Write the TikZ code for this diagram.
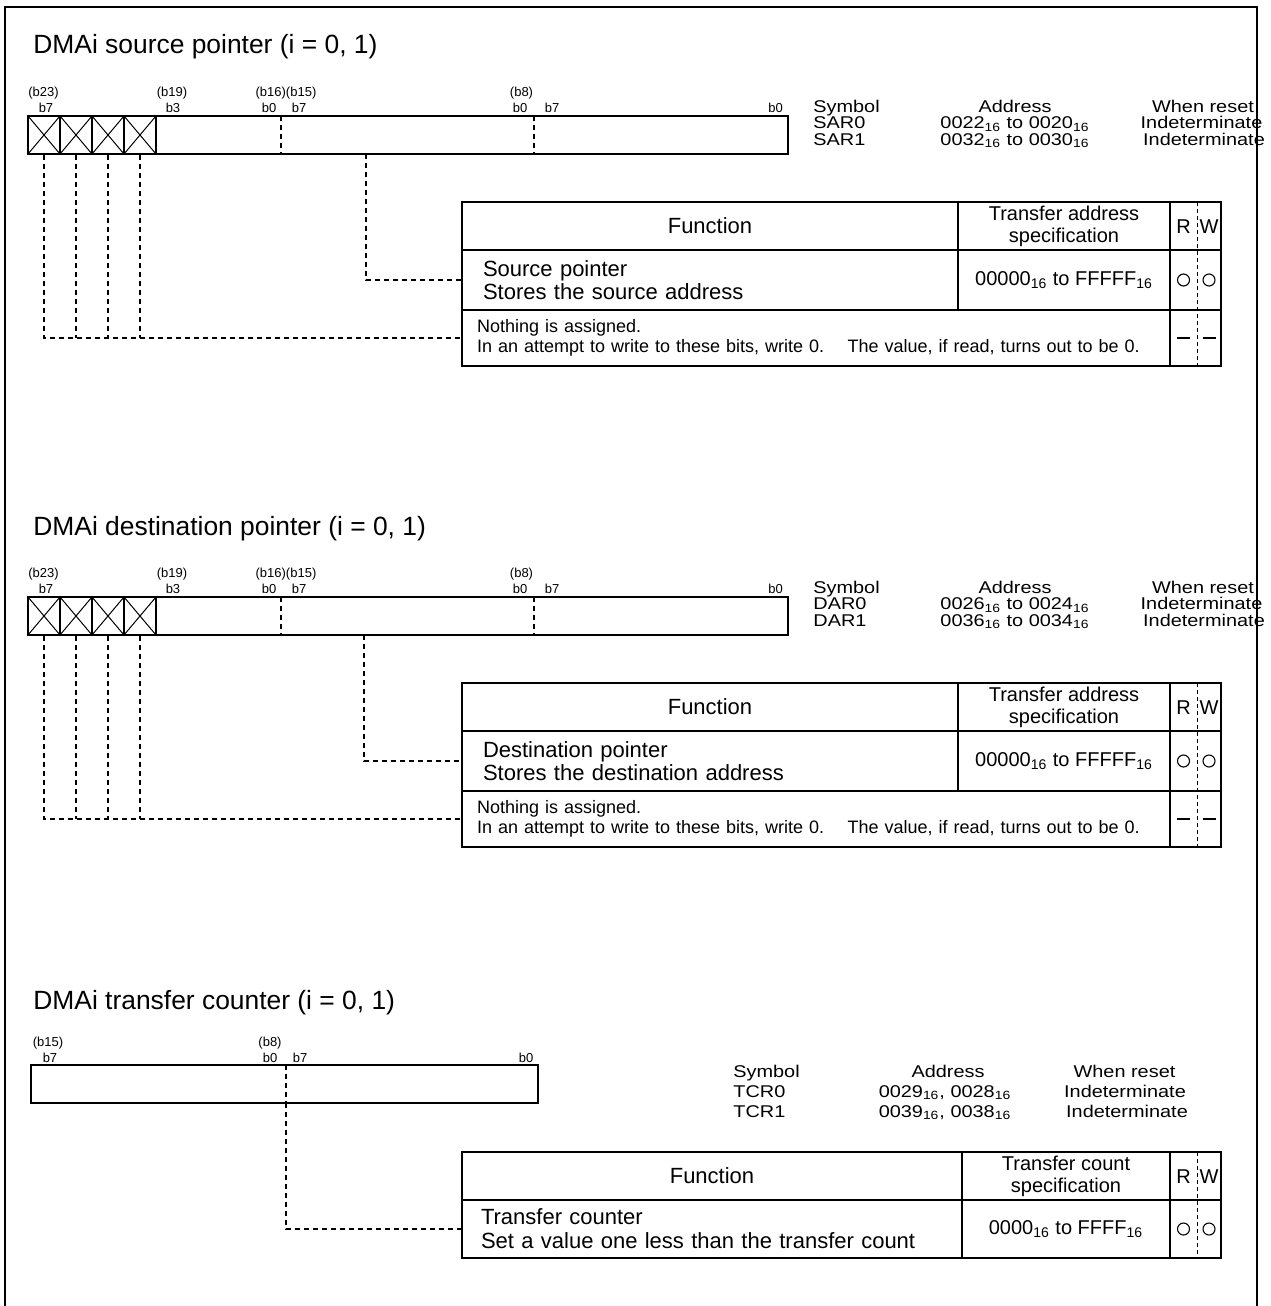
\documentclass[tikz,border=0pt]{standalone}
\usepackage{fontspec}
\setmainfont{Liberation Sans}
\newfontfamily\symfont[FakeStretch=1.17]{Liberation Sans}
\newcommand{\hexsub}{\textsubscript{16}}

\begin{document}
\begin{tikzpicture}[x=0.5pt,y=-0.5pt,
  regtitle/.style={anchor=base west,inner sep=0pt,font=\fontsize{13.2}{15}\selectfont},
  bitlbl/.style={anchor=base,inner sep=0pt,font=\fontsize{6.5}{7}\selectfont},
  symtxt/.style={anchor=base,inner sep=0pt,font=\symfont\fontsize{8.5}{10}\selectfont},
  regbox/.style={draw,line width=0.9pt,minimum height=19pt,inner sep=0pt},
  xcell/.style={regbox,minimum width=16pt,path picture={
    \draw[line width=0.5pt] (path picture bounding box.south west) -- (path picture bounding box.north east)
      (path picture bounding box.north west) -- (path picture bounding box.south east);}},
  bitdiv/.style={line width=0.6pt,dash pattern=on 2.5pt off 2pt},
  fieldconn/.style={line width=0.6pt,dash pattern=on 2.5pt off 2pt},
  tcell/.style={draw,line width=0.7pt,inner sep=0pt,align=center,font=\fontsize{11}{11.5}\selectfont},
  fcell/.style={tcell,align=left,inner xsep=10.5pt},
  spectxt/.style={font=\fontsize{10}{11}\selectfont},
  rwdiv/.style={line width=0.35pt,dash pattern=on 2pt off 1.5pt},
  rwmark/.style={circle,draw,line width=0.55pt,minimum size=6pt,inner sep=0pt},
  nomark/.style={inner sep=0pt,font=\fontsize{10}{12}\selectfont}
]
  \useasboundingbox (0,0) rectangle (1270,1306);
  % Page frame
  \draw[line width=1pt] (5,1306) |- (1257,7) -- (1257,1306);

  % ---- DMAi source pointer ----
  \node[regtitle] (stitle) at (33,54) {DMAi source pointer (i = 0, 1)};
  \node[bitlbl] (sb23) at (43.5,96) {(b23)};
  \node[bitlbl] (sb7a) at (46,112) {b7};
  \node[bitlbl] (sb19) at (172,96) {(b19)};
  \node[bitlbl] (sb3) at (173,112) {b3};
  \node[bitlbl] (sb16) at (286,96) {(b16)(b15)};
  \node[bitlbl] (sb0a) at (269,112) {b0};
  \node[bitlbl] (sb7b) at (299,112) {b7};
  \node[bitlbl] (sb8) at (521.5,96) {(b8)};
  \node[bitlbl] (sb0b) at (520,112) {b0};
  \node[bitlbl] (sb7c) at (552,112) {b7};
  \node[bitlbl] (sb0c) at (775.5,112) {b0};

  \node[regbox,minimum width=380pt] (sreg) at (408,135) {};
  \node[xcell] (sx1) at (44,135) {};
  \node[xcell] (sx2) at (76,135) {};
  \node[xcell] (sx3) at (108,135) {};
  \node[xcell] (sx4) at (140,135) {};
  \draw[bitdiv] (281,116) -- (281,154);
  \draw[bitdiv] (534,116) -- (534,154);

  \node[symtxt,anchor=base west] (ssym) at (813,112) {Symbol};
  \node[symtxt,anchor=base west] (ssym0) at (813,128.5) {SAR0};
  \node[symtxt,anchor=base west] (ssym1) at (813,145) {SAR1};
  \node[symtxt] (sadr) at (1015,112) {Address};
  \node[symtxt] (sadr0) at (1015,128.5) {0022\hexsub{} to 0020\hexsub};
  \node[symtxt] (sadr1) at (1015,145) {0032\hexsub{} to 0030\hexsub};
  \node[symtxt] (srst) at (1203,112) {When reset};
  \node[symtxt] (srst0) at (1201.5,128.5) {Indeterminate};
  \node[symtxt] (srst1) at (1204,145) {Indeterminate};

  \node[tcell,minimum width=248pt,minimum height=24pt] (sfun) at (710,226) {Function};
  \node[tcell,spectxt,minimum width=106pt,minimum height=24pt] (sspec) at (1064,226) {Transfer address\\specification};
  \node[tcell,minimum width=25.5pt,minimum height=24pt] (srw) at (1195.5,226) {};
  \node[nomark] (sr) at (1183.5,227) {R};
  \node[nomark] (sw) at (1209,227) {W};
  \node[fcell,minimum width=248pt,minimum height=30pt,text width=227pt] (sptr) at (710,280)
    {Source pointer\\Stores the source address};
  \node[tcell,minimum width=106pt,minimum height=30pt,font=\fontsize{10}{12}\selectfont] (srng) at (1064,280)
    {00000\hexsub{} to FFFFF\hexsub};
  \node[tcell,minimum width=25.5pt,minimum height=30pt] (srw2) at (1195.5,280) {};
  \node[rwmark] (sro) at (1183.5,280) {};
  \node[rwmark] (swo) at (1209,280) {};
  \node[fcell,inner xsep=7.5pt,minimum width=354pt,minimum height=28pt,text width=339pt,
    font=\fontsize{9}{10}\selectfont] (snone) at (816,338)
    {Nothing is assigned.\\In an attempt to write to these bits, write 0.\hspace{0.8em} The value, if read, turns out to be 0.};
  \node[tcell,minimum width=25.5pt,minimum height=28pt] (srw3) at (1195.5,338) {};
  \node[nomark] (srn) at (1183.5,338) {\rule{6.5pt}{1.2pt}};
  \node[nomark] (swn) at (1209,338) {\rule{6.5pt}{1.2pt}};
  \draw[rwdiv] (1197,202) -- (1197,366);

  \coordinate (sfld) at (366,154);
  \draw[fieldconn] (sfld) |- (sptr.west);
  \draw[fieldconn] (sx1.south) |- (snone.west);
  \foreach \c in {sx2,sx3,sx4}
    \draw[fieldconn] (\c.south) -- (\c.south |- snone.west);

  % ---- DMAi destination pointer ----
  \begin{scope}[shift={(0,481)}]
  \node[regtitle] (dtitle) at (33,54) {DMAi destination pointer (i = 0, 1)};
  \node[bitlbl] (db23) at (43.5,96) {(b23)};
  \node[bitlbl] (db7a) at (46,112) {b7};
  \node[bitlbl] (db19) at (172,96) {(b19)};
  \node[bitlbl] (db3) at (173,112) {b3};
  \node[bitlbl] (db16) at (286,96) {(b16)(b15)};
  \node[bitlbl] (db0a) at (269,112) {b0};
  \node[bitlbl] (db7b) at (299,112) {b7};
  \node[bitlbl] (db8) at (521.5,96) {(b8)};
  \node[bitlbl] (db0b) at (520,112) {b0};
  \node[bitlbl] (db7c) at (552,112) {b7};
  \node[bitlbl] (db0c) at (775.5,112) {b0};

  \node[regbox,minimum width=380pt] (dreg) at (408,135) {};
  \node[xcell] (dx1) at (44,135) {};
  \node[xcell] (dx2) at (76,135) {};
  \node[xcell] (dx3) at (108,135) {};
  \node[xcell] (dx4) at (140,135) {};
  \draw[bitdiv] (281,116) -- (281,154);
  \draw[bitdiv] (534,116) -- (534,154);

  \node[symtxt,anchor=base west] (dsym) at (813,112) {Symbol};
  \node[symtxt,anchor=base west] (dsym0) at (813,128.5) {DAR0};
  \node[symtxt,anchor=base west] (dsym1) at (813,145) {DAR1};
  \node[symtxt] (dadr) at (1015,112) {Address};
  \node[symtxt] (dadr0) at (1015,128.5) {0026\hexsub{} to 0024\hexsub};
  \node[symtxt] (dadr1) at (1015,145) {0036\hexsub{} to 0034\hexsub};
  \node[symtxt] (drst) at (1203,112) {When reset};
  \node[symtxt] (drst0) at (1201.5,128.5) {Indeterminate};
  \node[symtxt] (drst1) at (1204,145) {Indeterminate};

  \node[tcell,minimum width=248pt,minimum height=24pt] (dfun) at (710,226) {Function};
  \node[tcell,spectxt,minimum width=106pt,minimum height=24pt] (dspec) at (1064,226) {Transfer address\\specification};
  \node[tcell,minimum width=25.5pt,minimum height=24pt] (drw) at (1195.5,226) {};
  \node[nomark] (dr) at (1183.5,227) {R};
  \node[nomark] (dw) at (1209,227) {W};
  \node[fcell,minimum width=248pt,minimum height=30pt,text width=227pt] (dptr) at (710,280)
    {Destination pointer\\Stores the destination address};
  \node[tcell,minimum width=106pt,minimum height=30pt,font=\fontsize{10}{12}\selectfont] (drng) at (1064,280)
    {00000\hexsub{} to FFFFF\hexsub};
  \node[tcell,minimum width=25.5pt,minimum height=30pt] (drw2) at (1195.5,280) {};
  \node[rwmark] (dro) at (1183.5,280) {};
  \node[rwmark] (dwo) at (1209,280) {};
  \node[fcell,inner xsep=7.5pt,minimum width=354pt,minimum height=28pt,text width=339pt,
    font=\fontsize{9}{10}\selectfont] (dnone) at (816,338)
    {Nothing is assigned.\\In an attempt to write to these bits, write 0.\hspace{0.8em} The value, if read, turns out to be 0.};
  \node[tcell,minimum width=25.5pt,minimum height=28pt] (drw3) at (1195.5,338) {};
  \node[nomark] (drn) at (1183.5,338) {\rule{6.5pt}{1.2pt}};
  \node[nomark] (dwn) at (1209,338) {\rule{6.5pt}{1.2pt}};
  \draw[rwdiv] (1197,202) -- (1197,366);

  \coordinate (dfld) at (364,154);
  \draw[fieldconn] (dfld) |- (dptr.west);
  \draw[fieldconn] (dx1.south) |- (dnone.west);
  \foreach \c in {dx2,dx3,dx4}
    \draw[fieldconn] (\c.south) -- (\c.south |- dnone.west);
  \end{scope}

  % ---- DMAi transfer counter ----
  \node[regtitle] (ttitle) at (33,1009) {DMAi transfer counter (i = 0, 1)};
  \node[bitlbl] (tb15) at (48,1046) {(b15)};
  \node[bitlbl] (tb7a) at (50,1062) {b7};
  \node[bitlbl] (tb8) at (270,1046) {(b8)};
  \node[bitlbl] (tb0a) at (270,1062) {b0};
  \node[bitlbl] (tb7b) at (300,1062) {b7};
  \node[bitlbl] (tb0b) at (526,1062) {b0};

  \node[regbox,minimum width=253.5pt] (treg) at (284.5,1084) {};
  \draw[bitdiv] (286,1065) -- (286,1103);

  \node[symtxt,anchor=base west] (tsym) at (733,1077) {Symbol};
  \node[symtxt,anchor=base west] (tsym0) at (733,1097) {TCR0};
  \node[symtxt,anchor=base west] (tsym1) at (733,1117) {TCR1};
  \node[symtxt] (tadr) at (948,1077) {Address};
  \node[symtxt] (tadr0) at (945,1097) {0029\hexsub, 0028\hexsub};
  \node[symtxt] (tadr1) at (945,1117) {0039\hexsub, 0038\hexsub};
  \node[symtxt] (trst) at (1124.5,1077) {When reset};
  \node[symtxt] (trst0) at (1125,1097) {Indeterminate};
  \node[symtxt] (trst1) at (1127,1117) {Indeterminate};

  \node[tcell,minimum width=250pt,minimum height=24pt] (tfun) at (712,1176) {Function};
  \node[tcell,spectxt,minimum width=104pt,minimum height=24pt] (tspec) at (1066,1176) {Transfer count\\specification};
  \node[tcell,minimum width=25.5pt,minimum height=24pt] (trw) at (1195.5,1176) {};
  \node[nomark] (tr) at (1183.5,1177) {R};
  \node[nomark] (tw) at (1209,1177) {W};
  \node[fcell,inner xsep=9.5pt,minimum width=250pt,minimum height=29pt,text width=231pt,
    font=\fontsize{11}{12}\selectfont] (tcnt) at (712,1229)
    {Transfer counter\\Set a value one less than the transfer count};
  \node[tcell,minimum width=104pt,minimum height=29pt,font=\fontsize{10}{12}\selectfont] (trng) at (1066,1229)
    {0000\hexsub{} to FFFF\hexsub};
  \node[tcell,minimum width=25.5pt,minimum height=29pt] (trw2) at (1195.5,1229) {};
  \node[rwmark] (tro) at (1183.5,1229) {};
  \node[rwmark] (two) at (1209,1229) {};
  \draw[rwdiv] (1197,1152) -- (1197,1258);

  \coordinate (tfld) at (286,1103);
  \draw[fieldconn] (tfld) |- (tcnt.west);
\end{tikzpicture}
\end{document}
